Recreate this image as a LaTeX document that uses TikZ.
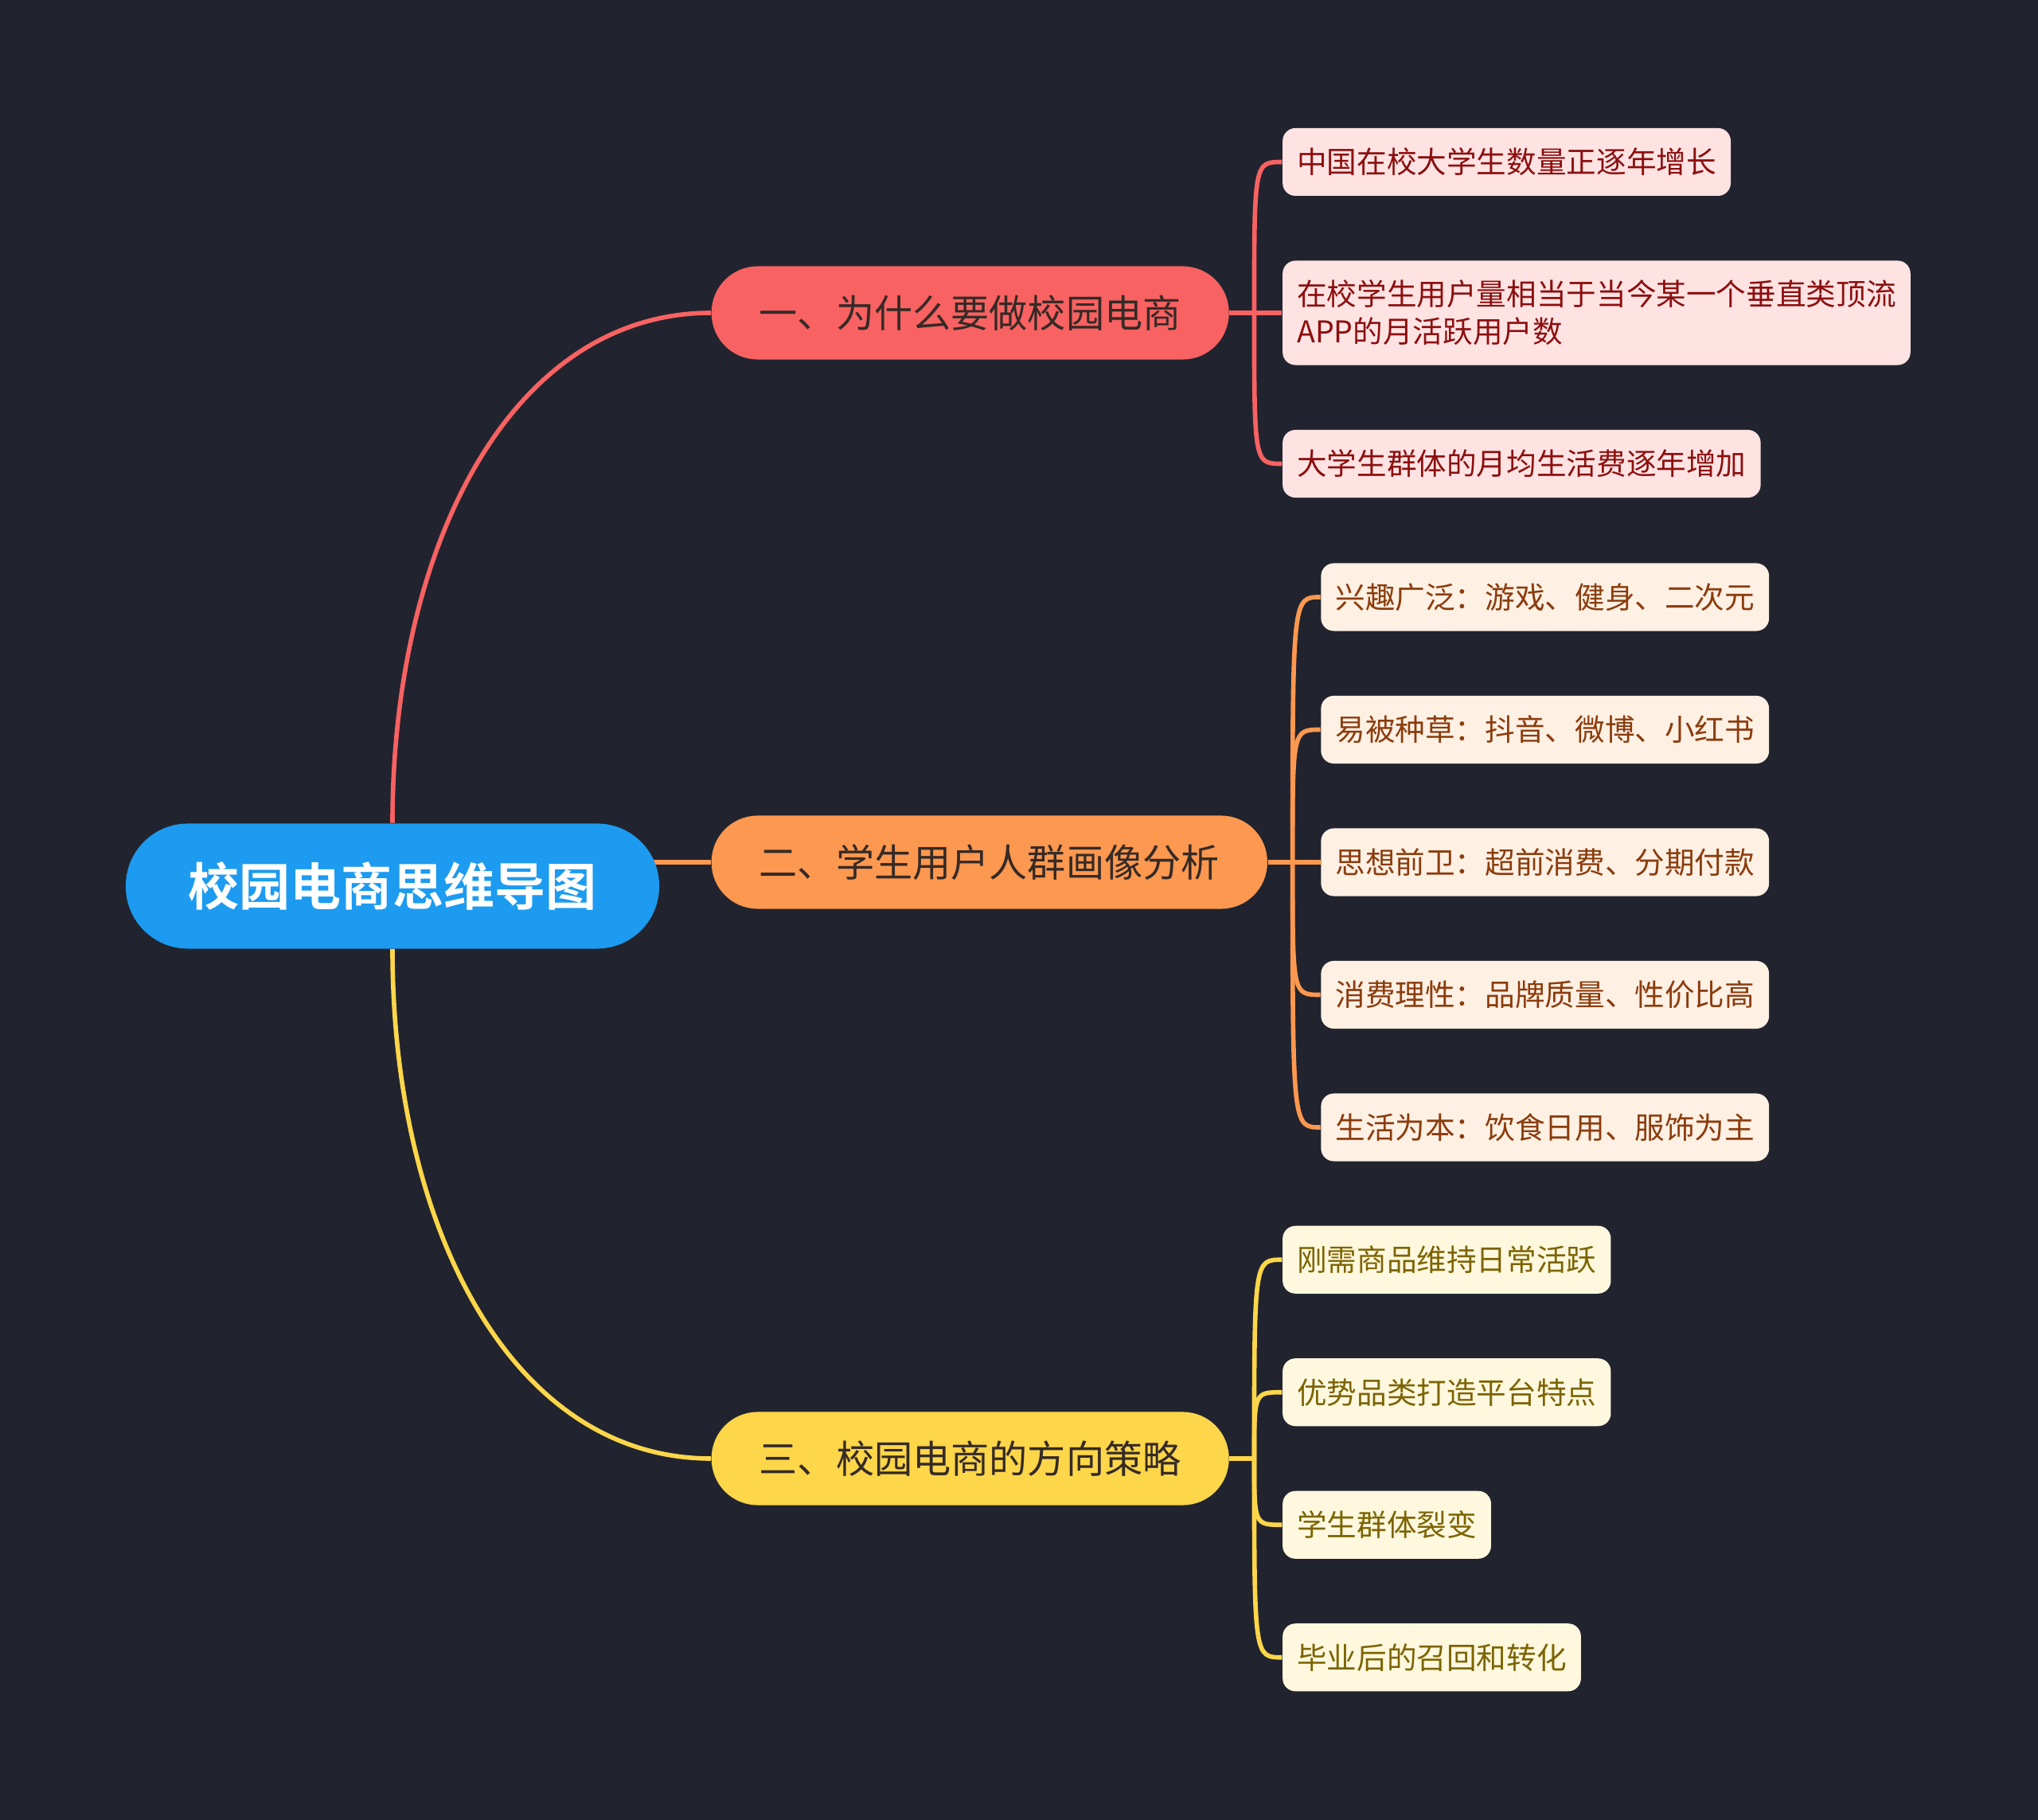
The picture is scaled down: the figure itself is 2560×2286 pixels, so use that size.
\documentclass[tikz,border=0pt]{standalone}
\usepackage{fontspec}
\setmainfont{Noto Sans CJK SC}[BoldFont={* Bold}]
\usepackage{xcolor}
\usetikzlibrary{positioning}

\definecolor{bgdark}{HTML}{21242F}
\definecolor{rootblue}{HTML}{1C9BF0}
\definecolor{redb}{HTML}{F86262}
\definecolor{orangeb}{HTML}{FD9850}
\definecolor{yellowb}{HTML}{FDD64A}
\definecolor{redleaf}{HTML}{FFE3E3}
\definecolor{orangeleaf}{HTML}{FFF0E4}
\definecolor{yellowleaf}{HTML}{FFF8DE}
\definecolor{redtext}{HTML}{8C0F0F}
\definecolor{orangetext}{HTML}{8B3C0D}
\definecolor{yellowtext}{HTML}{7C6402}
\definecolor{branchtext}{HTML}{352A26}

\pgfdeclarelayer{bg}
\pgfdeclarelayer{links}
\pgfsetlayers{bg,links,main}

\begin{document}
\begin{tikzpicture}[
    x=0.01cm, y=-0.01cm,
    mainbox/.style={
    rectangle,
    fill=rootblue,
    rounded corners=0.78cm,
    text=white,
    inner xsep=0.79cm,
    minimum height=1.57cm,
    font=\fontsize{18.2pt}{22pt}\selectfont\bfseries},
    subbox/.style={
    rectangle,
    fill=#1b,
    rounded corners=0.58cm,
    text=branchtext,
    anchor=west,
    inner xsep=0.6cm,
    minimum height=1.17cm,
    font=\fontsize{13.7pt}{16pt}\selectfont},
    leafbox/.style={
    rectangle,
    fill=#1leaf,
    text=#1text,
    rounded corners=0.16cm,
    inner xsep=0.18cm,
    minimum height=0.85cm,
    align=left,
    font=\fontsize{10.7pt}{13.4pt}\selectfont},
    mylink/.style={draw=#1b, line width=1.6pt},
    node distance=0.8cm and 0.66cm
    ]
    \useasboundingbox (0,0) rectangle (2560,2286);
    \begin{pgfonlayer}{bg}
    \fill[bgdark] (0,0) rectangle (2560,2286);
    \end{pgfonlayer}

    \node[mainbox] (root) at (493,1113) {校园电商思维导图};

    \node[subbox=red] (b1) at (893,393) {一、为什么要做校园电商};
    \node[subbox=orange] (b2) at (893,1083) {二、学生用户人群画像分析};
    \node[subbox=yellow] (b3) at (893,1832) {三、校园电商的方向策略};

    % first branch
    \node[leafbox=red, right=of b1, minimum height=1.31cm] (l1b) {在校学生用户量相当于当今某一个垂直类顶流\\APP的月活跃用户数};
    \node[leafbox=red, above=of l1b.north west, anchor=south west] (l1a) {中国在校大学生数量正逐年增长};
    \node[leafbox=red, below=of l1b.south west, anchor=north west] (l1c) {大学生群体的月均生活费逐年增加};

    % second branch
    \node[leafbox=orange, right=of b2] (l2c) {思想前卫：超前消费、分期付款};
    \node[leafbox=orange, above=of l2c.north west, anchor=south west] (l2b) {易被种草：抖音、微博、小红书};
    \node[leafbox=orange, above=of l2b.north west, anchor=south west] (l2a) {兴趣广泛：游戏、健身、二次元};
    \node[leafbox=orange, below=of l2c.south west, anchor=north west] (l2d) {消费理性：品牌质量、性价比高};
    \node[leafbox=orange, below=of l2d.south west, anchor=north west] (l2e) {生活为本：饮食日用、服饰为主};

    % third branch
    \node[leafbox=yellow, above right=0.4cm and 0.66cm of b3.east] (l3b) {优势品类打造平台特点};
    \node[leafbox=yellow, below right=0.4cm and 0.66cm of b3.east] (l3c) {学生群体裂变};
    \node[leafbox=yellow, above=of l3b.north west, anchor=south west] (l3a) {刚需商品维持日常活跃};
    \node[leafbox=yellow, below=of l3c.south west, anchor=north west] (l3d) {毕业后的召回和转化};

    \coordinate (j1) at ([xshift=0.31cm]b1.east);
    \coordinate (j2) at ([xshift=0.31cm]b2.east);
    \coordinate (j3) at ([xshift=0.31cm]b3.east);

    \begin{pgfonlayer}{links}
    \draw[mylink=red] (root.north) .. controls +(0,-350) and +(-250,0) .. (b1.west);
    \draw[mylink=orange] (root.center |- b2.west) -- (b2.west);
    \draw[mylink=yellow] (root.south) .. controls +(0,350) and +(-250,0) .. (b3.west);

    \draw[mylink=red] (b1.east) -- (j1);
    \draw[mylink=orange] (b2.east) -- (j2);
    \draw[mylink=yellow] (b3.east) -- (j3);
    \foreach \l in {l1a,l1b,l1c}
      \draw[mylink=red] (j1) .. controls (j1 |- \l.west) .. (\l.west);
    \foreach \l in {l2a,l2b,l2c,l2d,l2e}
      \draw[mylink=orange] (j2) .. controls (j2 |- \l.west) .. (\l.west);
    \foreach \l in {l3a,l3b,l3c,l3d}
      \draw[mylink=yellow] (j3) .. controls (j3 |- \l.west) .. (\l.west);
    \end{pgfonlayer}
\end{tikzpicture}
\end{document}
